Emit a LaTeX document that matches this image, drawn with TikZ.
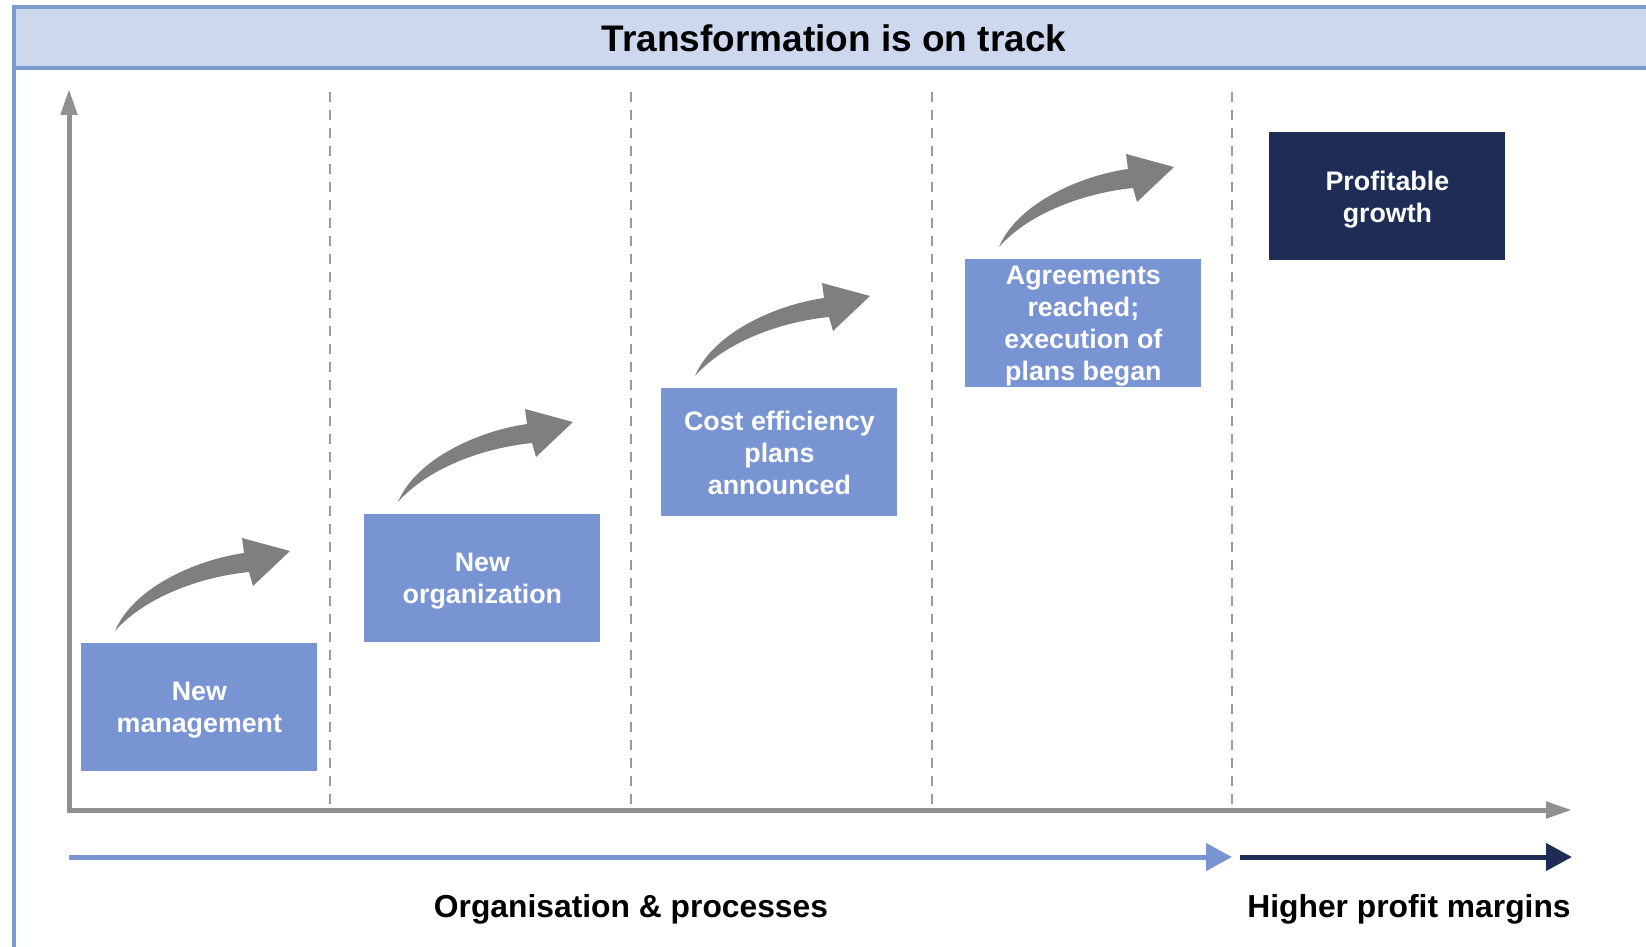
\documentclass[tikz,border=0pt]{standalone}
\usepackage{fontspec}
\setmainfont{Liberation Sans}
\usetikzlibrary{arrows.meta}

\definecolor{barfill}{HTML}{CDD7EE}
\definecolor{barline}{HTML}{7B9BCF}
\definecolor{stageblue}{HTML}{7994D2}
\definecolor{goaldark}{HTML}{1E2D55}
\definecolor{bendgray}{HTML}{7F7F7F}
\definecolor{axisgray}{HTML}{909090}
\definecolor{sepgray}{HTML}{9A9A9A}

\begin{document}
\begin{tikzpicture}[x=0.5pt, y=-0.5pt,
    frame/.style={draw=barline, line width=1.6pt},
    titletext/.style={font=\fontsize{18.5}{22}\selectfont\bfseries},
    stage/.style={fill=stageblue, text=white, font=\fontsize{13.4}{16}\selectfont\bfseries, minimum width=118pt, minimum height=64pt, inner sep=0pt, align=center, anchor=north west, text depth=0pt},
    goal/.style={stage, fill=goaldark},
    uparrow/.style={fill=bendgray},
    sep/.style={draw=sepgray, line width=1.2pt, dash pattern=on 5pt off 4pt},
    axisline/.style={draw=axisgray, line width=2.5pt},
    phase/.style={line width=2.5pt, -{Triangle[length=13pt,width=13.4pt]}},
    phasetext/.style={font=\fontsize{15.9}{19}\selectfont\bfseries}]
  \useasboundingbox (0,0) rectangle (1646,947);
  % header bar and frame
  \fill[barfill] (14,7) rectangle (1646,68);
  \draw[frame] (1646,7) -- (14,7) -- (14,947);
  \draw[frame] (14,68) -- (1646,68);
  \node[titletext] (title) at (834,38) {Transformation is on track};
  % axes and phase separators
  \coordinate (ytip) at (69,89);
  \coordinate (xtip) at (1572,810);
  \foreach \x in {330,631,932,1232} \draw[sep] (\x,92) -- (\x,810);
  \draw[axisline, {Triangle[length=13pt,width=8pt]}-{Triangle[length=13pt,width=8pt]}] (ytip) |- (xtip);
  % stages
  \node[stage] (b1) at (81,643) {New\\management};
  \node[stage] (b2) at (364,514) {New\\organization};
  \node[stage] (b3) at (661,388) {Cost efficiency\\plans\\announced};
  \node[stage] (b4) at (965,259) {Agreements\\reached;\\execution of\\plans began};
  \node[goal] (b5) at (1269,132) {Profitable\\growth};
  \foreach \b in {b1,b2,b3,b4} {
    \begin{scope}[shift={(\b.north west)}]
      \fill[uparrow] (34,-12) .. controls (52,-55) and (114,-83) .. (163,-90)
        -- (161,-105) -- (209,-92) -- (172,-57) -- (168,-71)
        .. controls (119,-66) and (64,-46) .. (34,-12) -- cycle;
    \end{scope}
  }
  % bottom phases
  \coordinate (p0) at (69,857);
  \coordinate (p1) at (1232,857);
  \coordinate (p2) at (1240,857);
  \coordinate (p3) at (1572,857);
  \draw[phase, stageblue] (p0) -- (p1);
  \draw[phase, goaldark] (p2) -- (p3);
  \node[phasetext] (org) at (631,909) {Organisation \& processes};
  \node[phasetext] (margin) at (1409,909) {Higher profit margins};
\end{tikzpicture}
\end{document}
